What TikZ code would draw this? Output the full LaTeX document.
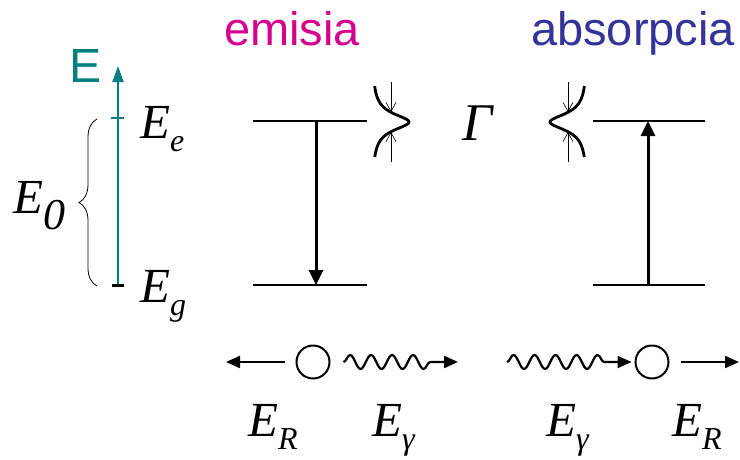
\documentclass[tikz,border=0pt]{standalone}
\usepackage{fontspec}
\setmainfont{Liberation Serif}
\newfontfamily\labelsans{Liberation Sans}
\definecolor{emColor}{HTML}{D6008E}
\definecolor{abColor}{HTML}{333399}
\definecolor{axColor}{HTML}{008080}
\usetikzlibrary{arrows.meta,decorations.pathmorphing,decorations.pathreplacing}
\newcommand{\Esub}[1]{\textit{E}\raisebox{-13pt}{\fontsize{32}{32}\selectfont\textit{#1}}}

\begin{document}
\begin{tikzpicture}[x=1pt,y=-1pt,
                    jump/.style={line width=3pt,-{Triangle[length=15pt,width=14pt]}},
                    kick/.style={line width=2.2pt,-{Triangle[length=14pt,width=12pt]}},
                    photon/.style={line width=2.2pt,-{Triangle[length=14pt,width=12pt]},decorate,
                                   decoration={snake,segment length=21pt,amplitude=7pt,post length=22pt}},
                    fwhm/.style={line width=0.6pt,-{Straight Barb[length=9pt,width=10pt]}},
                    line/.style={line width=2.8pt},
                    atom/.style={circle,draw,line width=2pt,minimum size=33pt,inner sep=0pt},
                    lab/.style={inner sep=0pt,anchor=base west,font=\fontsize{49}{49}\selectfont},
                    title/.style={inner sep=0pt,anchor=base west,font=\labelsans\fontsize{47}{47}\selectfont}]
  \useasboundingbox (0,0) rectangle (740,459);

  % titles
  \node[title,text=emColor] (emTitle) at (224,45) {emisia};
  \node[title,text=abColor] (abTitle) at (531,45) {absorpcia};

  % energy axis
  \coordinate (axBot) at (118,285);
  \coordinate (axTop) at (118,66);
  \draw[axColor,line width=2pt,-{Triangle[length=16pt,width=11pt]}] (axBot) -- (axTop);
  \draw[axColor,line width=2pt] (111,118) -- (124,118);
  \draw[line width=3pt] (112,285) -- (124,285);
  \node[title,text=axColor,font=\labelsans\fontsize{48}{48}\selectfont] (axLabel) at (69,82) {E};
  \draw[line width=0.8pt,decorate,decoration={brace,amplitude=18pt}] (97,286) -- (97,119);
  \node[lab] (eZero) at (13,213) {\textit{E}\raisebox{-16pt}{\fontsize{44}{44}\selectfont\textit{0}}};
  \node[lab] (eExc) at (140,138) {\Esub{e}};
  \node[lab] (eGnd) at (140,302) {\Esub{g}};

  % emission
  \draw[line] (253,121) -- (367,121);
  \draw[line] (253,285) -- (367,285);
  \coordinate (emUp) at (316,121);
  \coordinate (emDn) at (316,285);
  \draw[jump] (emUp) -- (emDn);
  \draw[line width=2.8pt] plot[domain=86:157,samples=70,variable=\t] ({372+37/(1+((\t-122)/10)^2)},\t);
  \draw[fwhm] (391,82) -- (391,112);
  \draw[fwhm] (391,162) -- (391,132);

  % absorption
  \draw[line] (593,121) -- (705,121);
  \draw[line] (593,285) -- (705,285);
  \coordinate (abUp) at (648,121);
  \coordinate (abDn) at (648,285);
  \draw[jump] (abDn) -- (abUp);
  \draw[line width=2.8pt] plot[domain=86:157,samples=70,variable=\t] ({587-37/(1+((\t-122)/10)^2)},\t);
  \draw[fwhm] (568,82) -- (568,112);
  \draw[fwhm] (568,162) -- (568,132);

  \node[lab,font=\fontsize{53}{53}\selectfont] (gamma) at (462,140) {\textit{Γ}};

  % recoil
  \node[atom] (atomL) at (313,362) {};
  \coordinate (recL) at (226,362);
  \coordinate (phoL) at (458,362);
  \draw[kick] ([xshift=-11pt]atomL.west) -- (recL);
  \draw[photon] ([xshift=13pt]atomL.east) -- (phoL);

  \node[atom] (atomR) at (652,362) {};
  \coordinate (phoR) at (507,362);
  \coordinate (recR) at (739,362);
  \draw[photon] (phoR) -- ([xshift=-3pt]atomR.west);
  \draw[kick] ([xshift=11pt]atomR.east) -- (recR);

  \node[lab] (recLabL) at (248,436) {\Esub{R}};
  \node[lab] (phoLabL) at (372,436) {\Esub{γ}};
  \node[lab] (phoLabR) at (546,436) {\Esub{γ}};
  \node[lab] (recLabR) at (672,436) {\Esub{R}};
\end{tikzpicture}
\end{document}
